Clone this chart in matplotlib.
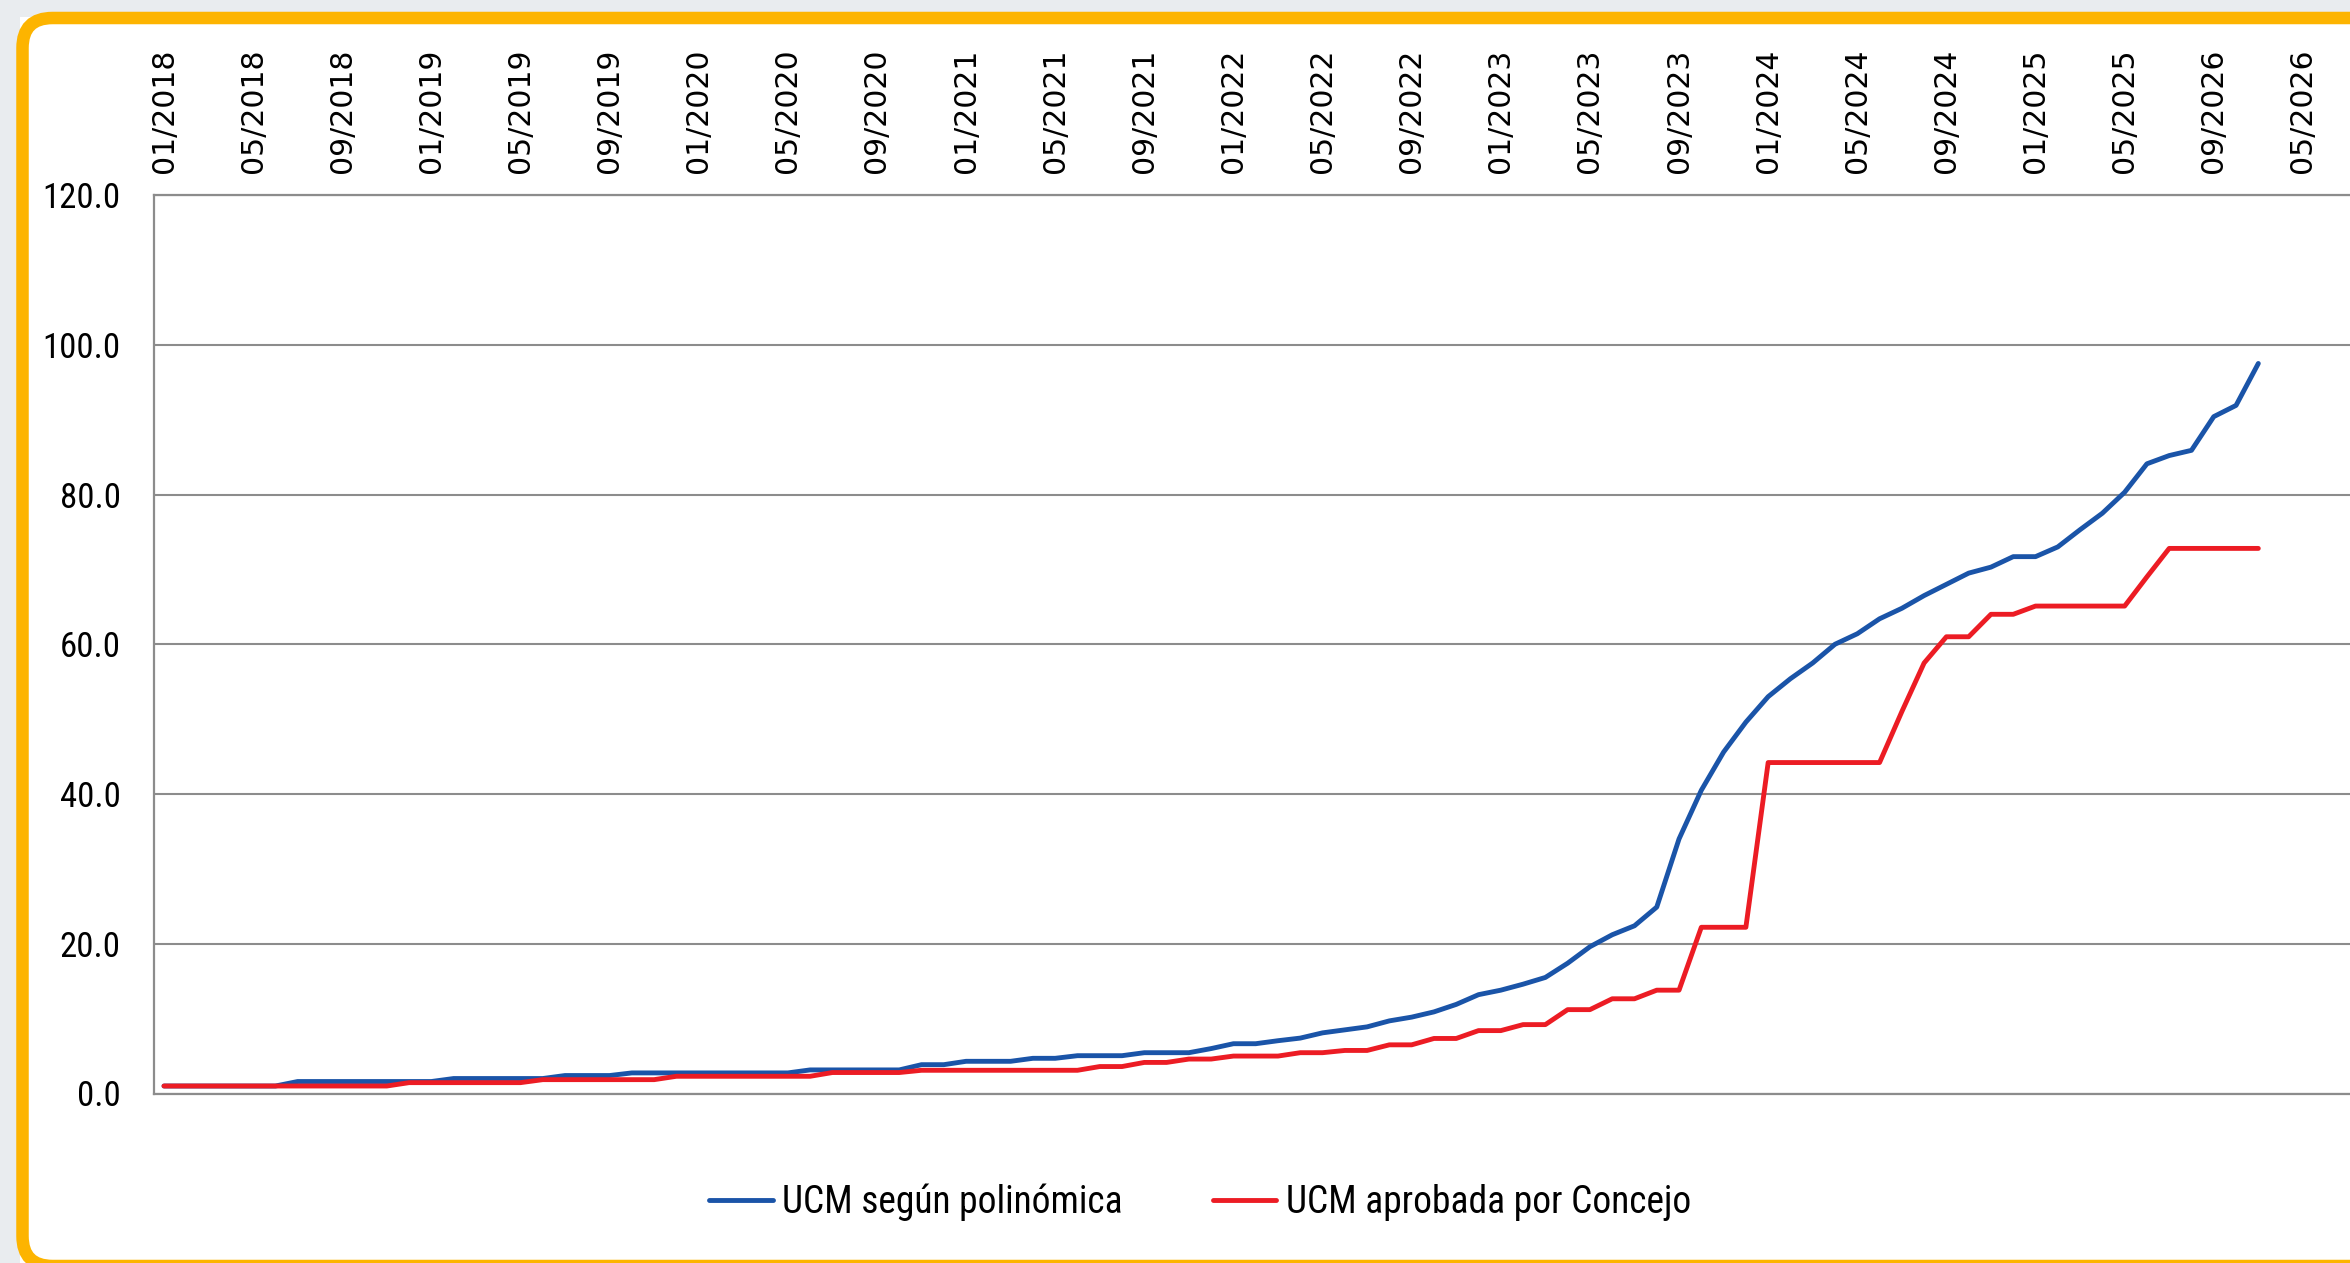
import numpy as np
import pandas as pd
import matplotlib
matplotlib.use("Agg")
import matplotlib.pyplot as plt
from matplotlib import font_manager
from matplotlib.patches import FancyBboxPatch, Rectangle

# --- data ---
months = pd.date_range("2018-01-01", periods=95, freq="MS").strftime("%m/%Y").tolist()

tick_labels = ["01/2018", "05/2018", "09/2018", "01/2019", "05/2019", "09/2019",
               "01/2020", "05/2020", "09/2020", "01/2021", "05/2021", "09/2021",
               "01/2022", "05/2022", "09/2022", "01/2023", "05/2023", "09/2023",
               "01/2024", "05/2024", "09/2024", "01/2025", "05/2025", "09/2026",
               "05/2026"]

ucm_polinomica = [
    1.0, 1.0, 1.0, 1.0, 1.0, 1.0, 1.6, 1.6, 1.6, 1.6, 1.6, 1.6,
    1.6, 2.0, 2.0, 2.0, 2.0, 2.0, 2.4, 2.4, 2.4, 2.75, 2.75, 2.75,
    2.75, 2.75, 2.75, 2.75, 2.75, 3.15, 3.15, 3.15, 3.15, 3.15, 3.85, 3.85,
    4.3, 4.3, 4.3, 4.7, 4.7, 5.05, 5.05, 5.05, 5.45, 5.45, 5.45, 6.0,
    6.65, 6.65, 7.05, 7.4, 8.1, 8.5, 8.9, 9.7, 10.2, 10.9, 11.9, 13.2,
    13.8, 14.6, 15.5, 17.4, 19.6, 21.2, 22.4, 24.9, 34.0, 40.5, 45.6, 49.6,
    53.0, 55.4, 57.5, 60.0, 61.4, 63.4, 64.8, 66.5, 68.0, 69.5, 70.3, 71.7,
    71.7, 73.0, 75.3, 77.5, 80.3, 84.1, 85.2, 85.9, 90.4, 91.9, 97.5,
]

ucm_concejo = [
    1.0, 1.0, 1.0, 1.0, 1.0, 1.0, 1.0, 1.0, 1.0, 1.0, 1.0, 1.45,
    1.45, 1.45, 1.45, 1.45, 1.45, 1.85, 1.85, 1.85, 1.85, 1.85, 1.85, 2.3,
    2.3, 2.3, 2.3, 2.3, 2.3, 2.3, 2.8, 2.8, 2.8, 2.8, 3.1, 3.1,
    3.1, 3.1, 3.1, 3.1, 3.1, 3.1, 3.6, 3.6, 4.15, 4.15, 4.6, 4.6,
    5.0, 5.0, 5.0, 5.45, 5.45, 5.75, 5.75, 6.5, 6.5, 7.35, 7.35, 8.4,
    8.4, 9.2, 9.2, 11.2, 11.2, 12.65, 12.65, 13.8, 13.8, 22.2, 22.2, 22.2,
    44.2, 44.2, 44.2, 44.2, 44.2, 44.2, 51.0, 57.5, 61.0, 61.0, 64.0, 64.0,
    65.1, 65.1, 65.1, 65.1, 65.1, 69.0, 72.8, 72.8, 72.8, 72.8, 72.8,
]

series_names = ["UCM según polinómica", "UCM aprobada por Concejo"]
series_colors = ["#1a54a8", "#ec1c24"]

# --- fonts ---
names = {f.name for f in font_manager.fontManager.ttflist}
narrow = next((n for n in ["Liberation Sans Narrow", "Roboto Condensed"] if n in names), None)
if narrow:
    num_font, num_size, leg_size = narrow, 25, 27
else:
    num_font, num_size, leg_size = "Liberation Sans", 21, 22

W, H = 2350, 1263
fig = plt.figure(figsize=(W / 100, H / 100), dpi=100, facecolor="#e9ecef")

# background panel with the orange rounded frame (pixel coordinates, y up)
bg = fig.add_axes([0, 0, 1, 1], zorder=0)
bg.set_xlim(0, W)
bg.set_ylim(0, H)
bg.axis("off")
bg.add_patch(Rectangle((20, -10), W, H - 17 + 10, facecolor="white", edgecolor="none"))
frame = FancyBboxPatch((22.5, -3), W + 60, H - 18 + 3,
                       boxstyle="round,pad=0,rounding_size=30",
                       facecolor="white", edgecolor="#fdb400", linewidth=9)
bg.add_patch(frame)

# main chart
x_left, x_right = 154, W
ax = fig.add_axes([x_left / W, 1 - 1093.5 / H, (x_right - x_left) / W, (1093.5 - 195) / H], zorder=1)
ax.set_facecolor("none")

x = np.arange(len(months))
for vals, name, col in zip([ucm_polinomica, ucm_concejo], series_names, series_colors):
    ax.plot(x, vals, color=col, lw=3.5, label=name, solid_joinstyle="round",
            solid_capstyle="round", zorder=3)

px_per_month = 22.28
x0 = -(164 - x_left) / px_per_month
ax.set_xlim(x0, x0 + (x_right - x_left) / px_per_month)
ax.set_ylim(0, 120)

ax.set_yticks(np.arange(0, 121, 20))
ax.set_yticklabels([f"{v:.1f}" for v in np.arange(0, 121, 20)],
                   fontsize=num_size, family=[num_font, "DejaVu Sans"])
ax.yaxis.grid(True, color="#8c8c8c", lw=1.5)
ax.set_axisbelow(True)

ax.xaxis.tick_top()
ax.set_xticks(np.arange(0, 4 * len(tick_labels), 4))
ax.set_xticklabels(tick_labels, rotation=90, fontsize=21.5, family="DejaVu Sans")
ax.tick_params(axis="x", length=0, pad=16)
ax.tick_params(axis="y", length=0, pad=24)

for side in ["left", "top", "bottom"]:
    ax.spines[side].set_color("#8c8c8c")
    ax.spines[side].set_linewidth(1.6)
ax.spines["right"].set_visible(False)

fig.legend(loc="center", bbox_to_anchor=(1200 / W, 1 - 1202 / H), ncol=2, frameon=False,
           prop={"family": [num_font, "DejaVu Sans"], "size": leg_size},
           handlelength=1.7, handletextpad=0.25, columnspacing=2.4)

fig.savefig("out.png", dpi=100, facecolor=fig.get_facecolor())
